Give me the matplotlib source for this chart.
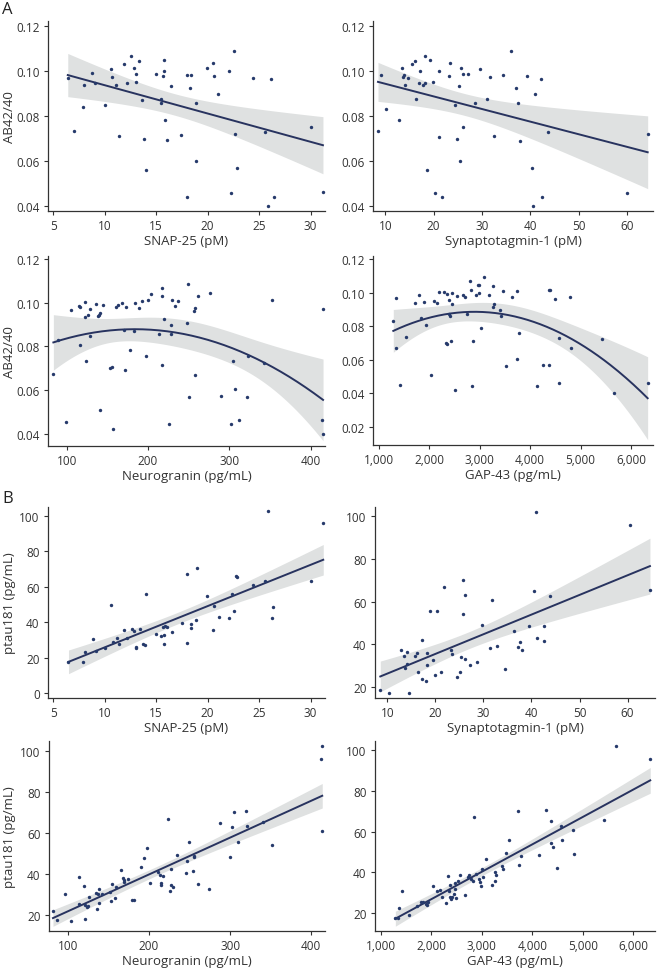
import numpy as np
import matplotlib
matplotlib.use("Agg")
import matplotlib.pyplot as plt
from matplotlib.ticker import FuncFormatter

plt.rcParams['font.family'] = ['Open Sans', 'DejaVu Sans']

# ---- data ----
# A: AB42/40 vs markers
snap_ab_x = [6.42, 7.0, 7.9, 8.0, 8.8, 9.05, 10.0, 10.6, 10.76, 11.15, 11.4, 11.9, 12.16, 12.55,
             12.87, 13.06, 13.06, 13.35, 13.65, 13.84, 13.97, 14.94, 15.43, 15.46, 15.65, 15.72,
             15.72, 15.85, 16.04, 16.43, 17.4, 17.95, 18.0, 18.34, 18.3, 18.83, 18.92, 19.9, 20.5,
             20.6, 21.0, 22.1, 22.3, 22.6, 22.7, 22.9, 24.4, 25.6, 25.9, 26.2, 26.4, 30.0, 31.2]
snap_ab_y = [0.0966, 0.0734, 0.0838, 0.0938, 0.0988, 0.0944, 0.0849, 0.1009, 0.0972, 0.0938,
             0.0710, 0.1032, 0.0947, 0.1065, 0.1013, 0.0984, 0.0949, 0.1041, 0.0872, 0.0699,
             0.0563, 0.0984, 0.0874, 0.0859, 0.0975, 0.1046, 0.1000, 0.0782, 0.0693, 0.0932,
             0.0715, 0.0441, 0.0982, 0.0982, 0.0926, 0.0859, 0.0600, 0.1012, 0.1034, 0.0975,
             0.0899, 0.1000, 0.0459, 0.1088, 0.0722, 0.0569, 0.0969, 0.0731, 0.0400, 0.0965,
             0.0440, 0.0753, 0.0462]

syt_ab_x = [8.48, 9.03, 10.2, 12.76, 13.38, 13.72, 13.93, 14.07, 14.62, 15.59, 16.07, 16.34, 17.1,
            17.03, 17.86, 18.14, 18.28, 18.69, 19.31, 19.8, 20.2, 21.03, 21.03, 21.66, 23.17, 23.38,
            24.48, 24.9, 25.17, 25.45, 25.59, 26.0, 26.14, 27.03, 28.55, 29.5, 31.1, 31.6, 32.55,
            34.3, 36.07, 37.1, 37.45, 37.8, 39.38, 40.28, 40.6, 40.97, 42.2, 42.34, 43.6, 60.07, 64.3]
syt_ab_y = [0.0734, 0.0982, 0.0829, 0.0782, 0.1012, 0.0972, 0.0981, 0.0937, 0.0966, 0.1032,
            0.1041, 0.0874, 0.1000, 0.0944, 0.0938, 0.0946, 0.1066, 0.0563, 0.1046, 0.0951,
            0.0459, 0.1000, 0.0709, 0.0441, 0.0975, 0.1034, 0.0849, 0.0699, 0.0932, 0.0600,
            0.1012, 0.0984, 0.0753, 0.0987, 0.0857, 0.1007, 0.0874, 0.0971, 0.0713, 0.0982,
            0.1088, 0.0926, 0.0857, 0.0691, 0.0975, 0.0569, 0.0400, 0.0899, 0.0965, 0.0440,
            0.0731, 0.0460, 0.0722]

ng_ab_x = [83.6, 89.8, 98.8, 105.7, 115.6, 116.0, 116.4, 122.1, 123.0, 124.2, 126.2, 128.7, 128.7,
           136.5, 138.1, 139.3, 141.0, 140.6, 145.0, 153.7, 155.3, 157.0, 160.2, 162.7, 168.0, 170.9,
           171.3, 172.5, 177.9, 182.4, 184.4, 189.3, 193.0, 197.5, 200.0, 203.3, 213.1, 216.8, 217.6,
           217.6, 220.0, 225.4, 228.7, 228.7, 229.5, 232.8, 237.3, 247.5, 249.6, 250.8, 257.0, 258.2,
           258.2, 261.9, 276.2, 289.3, 301.6, 304.5, 307.4, 311.9, 321.3, 323.0, 343.0, 352.9, 413.5,
           415.2, 415.2]
ng_ab_y = [0.0675, 0.0830, 0.0452, 0.0968, 0.0986, 0.0980, 0.0807, 0.0934, 0.1003, 0.0735, 0.0946,
           0.0972, 0.0850, 0.0995, 0.0938, 0.0945, 0.0952, 0.0510, 0.0989, 0.0700, 0.0707, 0.0421,
           0.0983, 0.0992, 0.1001, 0.0874, 0.0694, 0.0983, 0.0784, 0.0873, 0.1001, 0.0977, 0.1007,
           0.0758, 0.1012, 0.1042, 0.0859, 0.1068, 0.1033, 0.0717, 0.0928, 0.0443, 0.0899, 0.0859,
           0.1015, 0.0986, 0.1009, 0.0909, 0.1088, 0.0567, 0.0964, 0.0977, 0.0668, 0.1033, 0.1046,
           0.0571, 0.0443, 0.0732, 0.0603, 0.0461, 0.0570, 0.0755, 0.0724, 0.1015, 0.0463, 0.0972,
           0.0400]

gap_ab_x = [1291, 1343, 1343, 1423, 1548, 1713, 1799, 1845, 1905, 1944, 2030, 2103, 2163, 2202, 2288,
            2341, 2347, 2361, 2387, 2400, 2413, 2433, 2460, 2460, 2512, 2559, 2671, 2717, 2750, 2803,
            2836, 2849, 2876, 2922, 2962, 2981, 2995, 3034, 3087, 3186, 3259, 3265, 3285, 3398, 3417,
            3470, 3530, 3642, 3734, 3741, 3774, 4144, 4263, 4369, 4402, 4369, 4487, 4573, 4567, 4785,
            4818, 5425, 5657, 6330]
gap_ab_y = [0.0831, 0.0970, 0.0673, 0.0451, 0.0735, 0.0941, 0.0986, 0.0851, 0.0947, 0.0807, 0.0509,
            0.0949, 0.0941, 0.1002, 0.1002, 0.0701, 0.0695, 0.0994, 0.0955, 0.0875, 0.0861, 0.0711,
            0.0998, 0.0935, 0.0422, 0.0982, 0.0986, 0.0978, 0.0875, 0.1068, 0.1014, 0.0442, 0.0715,
            0.0988, 0.1044, 0.1048, 0.0998, 0.0787, 0.1092, 0.0988, 0.1038, 0.0913, 0.0933, 0.0899,
            0.0861, 0.1010, 0.0565, 0.0978, 0.1008, 0.0603, 0.0759, 0.0442, 0.0569, 0.1018, 0.1014,
            0.0571, 0.0966, 0.0459, 0.0733, 0.0974, 0.0669, 0.0725, 0.0400, 0.0461]

# B: ptau181 vs markers
snap_pt_x = [6.49, 7.94, 8.07, 8.85, 9.2, 10.0, 10.6, 10.85, 11.2, 11.37, 11.9, 12.2, 12.63, 12.9,
             13.08, 13.08, 13.4, 13.7, 13.9, 13.99, 14.96, 15.48, 15.64, 15.74, 15.77, 15.9, 16.06,
             16.5, 17.48, 17.97, 18.03, 18.39, 18.39, 18.9, 18.97, 19.9, 20.56, 20.65, 21.07, 22.1,
             22.34, 22.6, 22.72, 22.9, 24.4, 25.6, 25.86, 26.28, 26.38, 30.03, 31.23]
snap_pt_y = [17.5, 17.5, 23.2, 30.4, 23.8, 25.3, 49.6, 28.7, 31.1, 27.5, 35.3, 30.8, 36.0, 35.1,
             25.8, 25.3, 36.0, 27.4, 27.2, 55.8, 33.4, 32.1, 37.4, 33.0, 27.4, 37.7, 37.5, 34.3,
             39.4, 67.2, 28.5, 38.9, 36.8, 41.3, 70.6, 54.5, 35.7, 48.9, 42.8, 42.1, 56.0, 46.4,
             65.8, 65.3, 60.9, 63.0, 102.5, 42.1, 48.7, 63.4, 96.2]

syt_pt_x = [8.54, 10.28, 12.84, 13.47, 13.74, 14.1, 14.16, 14.58, 15.69, 16.24, 16.45, 17.14, 17.2,
            17.98, 18.32, 18.25, 18.8, 19.43, 19.85, 20.26, 21.17, 21.79, 23.25, 23.45, 24.56, 25.05,
            25.33, 25.67, 25.8, 26.16, 26.23, 27.13, 28.65, 29.76, 31.3, 31.8, 32.8, 34.5, 36.4,
            37.25, 37.67, 38.0, 39.54, 40.5, 40.86, 41.2, 42.52, 42.52, 43.77, 60.42, 64.65]
syt_pt_y = [18.6, 17.5, 37.5, 34.7, 28.9, 36.4, 30.8, 17.4, 34.8, 35.8, 27.2, 23.9, 42.0, 23.1,
            35.8, 30.3, 55.6, 32.9, 25.9, 55.7, 27.3, 66.8, 37.5, 35.4, 25.0, 27.0, 34.3, 70.2,
            54.3, 33.4, 63.2, 30.3, 31.9, 49.3, 38.4, 60.7, 39.2, 28.4, 46.4, 38.7, 41.1, 37.6,
            48.4, 65.1, 102.0, 42.8, 41.8, 48.4, 62.7, 95.8, 65.4]

ng_pt_x = [81.5, 86.8, 96.3, 103.3, 113.2, 113.2, 119.3, 120.5, 121.0, 123.0, 125.1, 125.9, 134.5,
           135.3, 136.6, 137.8, 137.8, 141.5, 151.4, 153.8, 153.0, 157.5, 159.6, 164.9, 167.8, 169.0,
           169.5, 174.4, 179.3, 181.8, 189.6, 193.7, 197.4, 200.7, 210.5, 213.4, 214.2, 214.2, 217.1,
           222.9, 226.2, 226.6, 227.4, 229.9, 234.0, 245.1, 246.7, 248.8, 254.5, 255.8, 255.8, 259.9,
           274.2, 287.4, 299.7, 302.2, 305.1, 310.0, 319.5, 321.1, 340.8, 351.1, 412.3, 413.6, 413.6]
ng_pt_y = [22.1, 17.6, 30.5, 17.4, 38.6, 25.3, 34.4, 25.2, 18.4, 24.0, 24.8, 28.7, 30.7, 23.1, 30.5,
           32.9, 26.0, 30.2, 31.6, 35.5, 27.1, 28.4, 33.7, 42.0, 38.3, 37.1, 36.2, 37.5, 27.3, 27.4,
           43.3, 48.0, 52.6, 35.8, 41.3, 39.6, 35.8, 35.0, 39.1, 67.0, 31.8, 35.0, 42.6, 33.6, 49.4,
           40.4, 46.5, 55.6, 41.8, 49.1, 48.4, 35.5, 32.9, 65.1, 48.6, 62.8, 70.4, 55.9, 70.6, 63.3,
           65.4, 54.4, 96.1, 102.4, 60.9]

gap_pt_x = [1290, 1350, 1356, 1429, 1554, 1726, 1798, 1844, 1890, 1910, 1937, 2042, 2108, 2174, 2207,
            2293, 2339, 2352, 2365, 2379, 2398, 2412, 2444, 2464, 2477, 2484, 2524, 2570, 2675, 2721,
            2755, 2787, 2820, 2847, 2880, 2939, 2972, 2979, 3005, 3032, 3091, 3196, 3262, 3269, 3289,
            3401, 3421, 3480, 3533, 3718, 3731, 3770, 4140, 4265, 4364, 4370, 4410, 4489, 4575, 4582,
            4799, 4826, 5419, 5650, 6336]
gap_pt_y = [17.7, 17.7, 22.6, 30.8, 19.0, 23.4, 25.7, 25.6, 24.7, 24.1, 25.4, 33.4, 30.9, 31.3, 27.8,
            25.2, 38.0, 30.8, 27.7, 34.0, 26.9, 27.8, 29.5, 34.9, 31.9, 27.2, 35.7, 38.8, 28.8, 37.8,
            38.8, 36.7, 35.7, 67.0, 39.1, 36.8, 35.2, 33.4, 41.9, 37.8, 46.6, 33.7, 40.4, 35.8, 38.9,
            43.2, 41.6, 49.6, 55.8, 70.4, 43.5, 48.1, 48.7, 70.6, 65.2, 54.6, 52.7, 42.0, 62.9, 55.9,
            60.8, 49.1, 65.7, 102.1, 95.9]

x_labels = ["SNAP-25 (pM)", "Synaptotagmin-1 (pM)", "Neurogranin (pg/mL)", "GAP-43 (pg/mL)"]

POINT = "#263a6b"
LINE = "#28335f"
BAND = "#dfe1e1"
TXT = "#333333"

W, H = 657, 970
fig = plt.figure(figsize=(W / 100, H / 100), dpi=100)


def box(l, r, t, b):
    return [l / W, 1 - b / H, (r - l) / W, (b - t) / H]


def fit_band(x, y, degree):
    # OLS fit (poly of given degree) with ~95% confidence band
    x = np.asarray(x, float)
    y = np.asarray(y, float)
    X = np.vander(x, degree + 1, increasing=True)
    beta, *_ = np.linalg.lstsq(X, y, rcond=None)
    resid = y - X @ beta
    dof = len(x) - (degree + 1)
    s2 = resid @ resid / dof
    cov = s2 * np.linalg.inv(X.T @ X)
    xs = np.linspace(x.min(), x.max(), 200)
    Xs = np.vander(xs, degree + 1, increasing=True)
    ys = Xs @ beta
    se = np.sqrt(np.einsum('ij,jk,ik->i', Xs, cov, Xs))
    return xs, ys, 2.0 * se


def panel(rect, x, y, degree, xlim, ylim, xticks, yticks, xlabel, ylabel=None,
          xfmt=None, yfmt=None):
    ax = fig.add_axes(rect)
    xs, ys, half = fit_band(x, y, degree)
    ax.fill_between(xs, ys - half, ys + half, color=BAND, lw=0, zorder=1)
    ax.scatter(x, y, s=6, color=POINT, lw=0, zorder=3)
    ax.plot(xs, ys, color=LINE, lw=1.4, zorder=2)
    ax.set_xlim(*xlim)
    ax.set_ylim(*ylim)
    ax.set_xticks(xticks)
    ax.set_yticks(yticks)
    if xfmt:
        ax.xaxis.set_major_formatter(FuncFormatter(xfmt))
    if yfmt:
        ax.yaxis.set_major_formatter(FuncFormatter(yfmt))
    for s in ['top', 'right']:
        ax.spines[s].set_visible(False)
    for s in ['left', 'bottom']:
        ax.spines[s].set_color(TXT)
        ax.spines[s].set_linewidth(0.9)
    ax.tick_params(length=3, width=0.8, color=TXT, labelcolor=TXT, labelsize=8.5)
    ax.tick_params(axis='y', pad=3)
    ax.tick_params(axis='x', pad=2.5)
    ax.set_xlabel(xlabel, fontsize=9.5, color=TXT, labelpad=2)
    if ylabel:
        ax.set_ylabel(ylabel, fontsize=9.5, color=TXT)
        l = rect[0] * W
        wpx = rect[2] * W
        ax.yaxis.set_label_coords((16 - l) / wpx, 0.5)
    return ax


f2 = lambda v, p: f"{v:.2f}"
fth = lambda v, p: f"{int(v):,}"

ab_lab = "AB42/40"
pt_lab = "ptau181 (pg/mL)"

# row 1
panel(box(48, 325, 22, 212), snap_ab_x, snap_ab_y, 1, (4.5, 31.4), (0.038, 0.122),
      [5, 10, 15, 20, 25, 30], [0.04, 0.06, 0.08, 0.10, 0.12], x_labels[0], ab_lab, yfmt=f2)
panel(box(373, 653, 22, 212), syt_ab_x, syt_ab_y, 1, (7.45, 65.4), (0.038, 0.122),
      [10, 20, 30, 40, 50, 60], [0.04, 0.06, 0.08, 0.10, 0.12], x_labels[1], yfmt=f2)
# row 2
panel(box(48, 325, 257, 447), ng_ab_x, ng_ab_y, 2, (77, 417.6), (0.0343, 0.1215),
      [100, 200, 300, 400], [0.04, 0.06, 0.08, 0.10, 0.12], x_labels[2], ab_lab, yfmt=f2)
panel(box(373, 653, 257, 446), gap_ab_x, gap_ab_y, 2, (889, 6436), (0.0091, 0.122),
      [1000, 2000, 3000, 4000, 5000, 6000], [0.02, 0.04, 0.06, 0.08, 0.10, 0.12], x_labels[3],
      xfmt=fth, yfmt=f2)
# row 3
panel(box(48, 325, 508, 699), snap_pt_x, snap_pt_y, 1, (4.5, 31.4), (-2.8, 105),
      [5, 10, 15, 20, 25, 30], [0, 20, 40, 60, 80, 100], x_labels[0], pt_lab)
panel(box(375, 655, 508, 699), syt_pt_x, syt_pt_y, 1, (7.44, 65.7), (15, 104.2),
      [10, 20, 30, 40, 50, 60], [20, 40, 60, 80, 100], x_labels[1])
# row 4
panel(box(49, 325, 742, 932), ng_pt_x, ng_pt_y, 1, (76.6, 417), (12.4, 104.8),
      [100, 200, 300, 400], [20, 40, 60, 80, 100], x_labels[2], pt_lab)
panel(box(375, 655, 742, 932), gap_pt_x, gap_pt_y, 1, (887, 6430), (11.2, 104.6),
      [1000, 2000, 3000, 4000, 5000, 6000], [20, 40, 60, 80, 100], x_labels[3], xfmt=fth)

fig.text(2 / W, 1 - 14 / H, "A", fontsize=12, color="#222222", va="baseline")
fig.text(2 / W, 1 - 503 / H, "B", fontsize=12, color="#222222", va="baseline")

fig.savefig("out.png", dpi=100)
